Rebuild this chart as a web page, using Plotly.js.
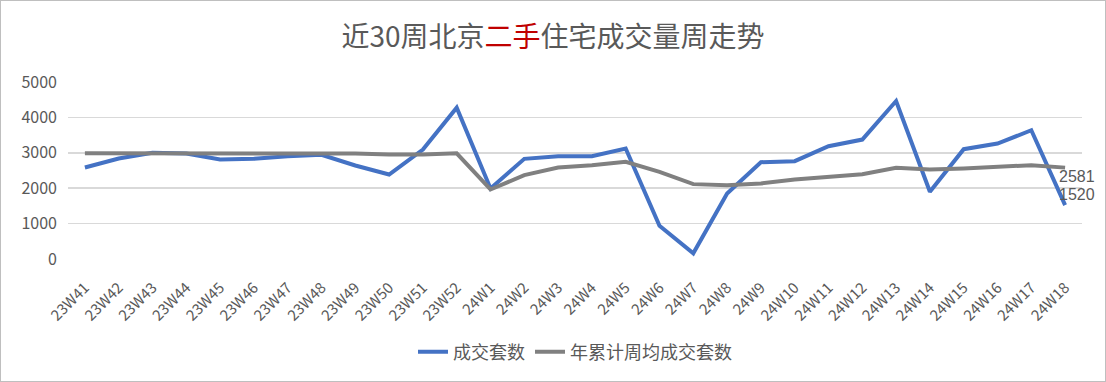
<!DOCTYPE html>
<html><head><meta charset="utf-8">
<script src="https://cdn.plot.ly/plotly-3.0.1.min.js"></script>
<style>
html,body{margin:0;padding:0;background:#fff;}
#chart{width:1104px;height:380px;border:1px solid #bfbfbf;}
</style></head>
<body><div id="chart"></div>
<script>
const weeks = ["23W41","23W42","23W43","23W44","23W45","23W46","23W47","23W48","23W49","23W50","23W51","23W52",
"24W1","24W2","24W3","24W4","24W5","24W6","24W7","24W8","24W9","24W10","24W11","24W12","24W13","24W14","24W15","24W16","24W17","24W18"];
const deals = [2585,2838,2998,2979,2810,2829,2904,2942,2641,2387,3092,4276,
1992,2829,2904,2904,3120,940,160,1852,2735,2763,3186,3374,4464,1898,3102,3261,3637,1520];
const avgDeals = [2985,2985,2985,2985,2985,2985,2985,2985,2980,2955,2955,2985,
1964,2368,2585,2650,2744,2462,2115,2086,2133,2246,2331,2397,2575,2528,2556,2603,2650,2581];
const seriesNames = ["成交套数","年累计周均成交套数"];

const last = weeks.length - 1;
const traces = [
 {x:weeks,y:deals,name:seriesNames[0],type:"scatter",mode:"lines",
  line:{color:"#4472C4",width:4}},
 {x:weeks,y:avgDeals,name:seriesNames[1],type:"scatter",mode:"lines",
  line:{color:"#808080",width:4}}
];
const labelFont = {size:16,color:"#595959",family:"'Liberation Sans', Arial, sans-serif"};
const annotations = [
 {x:weeks[last],y:avgDeals[last],text:String(avgDeals[last]),showarrow:false,borderpad:0,
  xanchor:"left",yanchor:"middle",xshift:-7,yshift:-9,font:labelFont},
 {x:weeks[last],y:deals[last],text:String(deals[last]),showarrow:false,borderpad:0,
  xanchor:"left",yanchor:"middle",xshift:-7,yshift:11,font:labelFont}
];
const layout = {
 width:1104,height:380,
 margin:{l:67,r:23,t:81,b:122},
 paper_bgcolor:"#fff",plot_bgcolor:"#fff",
 font:{family:"'Noto Sans CJK SC', 'Noto Sans', sans-serif",color:"#595959"},
 title:{text:"近30周北京<span style='color:#C00000'>二手</span>住宅成交量周走势",
   font:{size:28,color:"#595959"},x:0.5,xanchor:"center",y:0.905,yanchor:"middle"},
 xaxis:{type:"category",range:[-0.5,weeks.length-0.5],tickangle:-45,tickfont:{size:15,color:"#595959"},
   showgrid:false,zeroline:false,showline:false,ticks:"",ticklabelstandoff:16,automargin:false},
 yaxis:{range:[0,5000],dtick:1000,tickfont:{size:16,color:"#595959"},
   gridcolor:"#d9d9d9",gridwidth:1.5,zeroline:false,showline:false,ticks:"",ticklen:0,
   ticklabelstandoff:10,automargin:false},
 annotations:annotations,
 showlegend:true,
 legend:{orientation:"h",x:0.5,xanchor:"center",yref:"container",y:0.076,yanchor:"middle",
   font:{size:18,color:"#595959"},itemwidth:30}
};
Plotly.newPlot("chart",traces,layout,{displayModeBar:false,staticPlot:true});
</script></body></html>
